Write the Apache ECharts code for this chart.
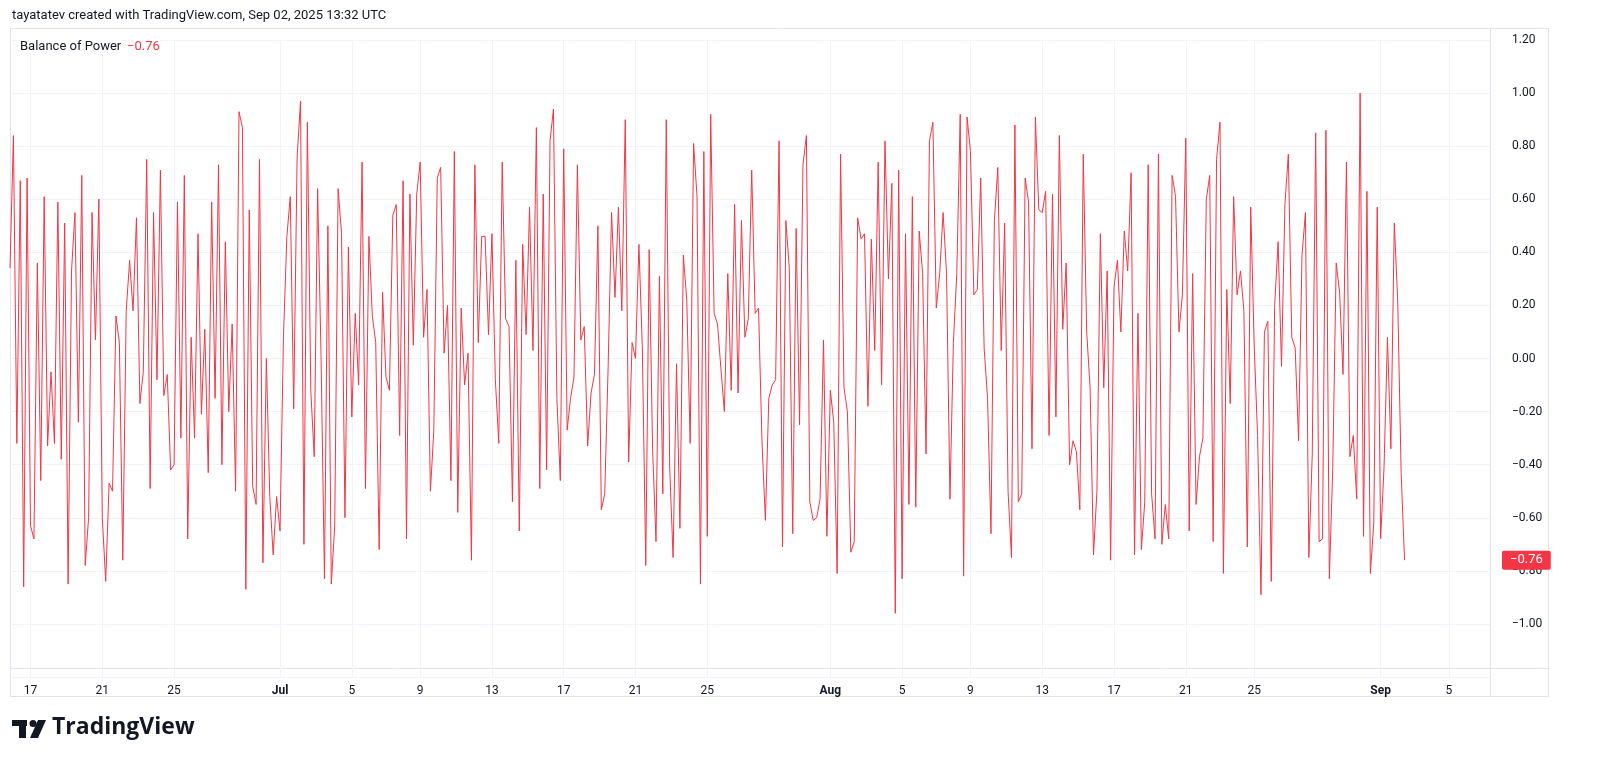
<!DOCTYPE html>
<html>
<head>
<meta charset="utf-8">
<script src="https://cdn.jsdelivr.net/npm/echarts@6/dist/echarts.min.js"></script>
<style>
  html, body { margin: 0; padding: 0; background: #fff; }
  #chart { width: 1600px; height: 778px; }
</style>
</head>
<body>
<div id="chart"></div>
<script>
// Balance of Power, 4h bars
const bopValues = [
  0.34,0.84,-0.32,0.67,-0.86,0.68,-0.63,-0.68,0.36,-0.46,0.61,-0.33,-0.05,-0.32,0.59,-0.38,0.51,-0.85,0.33,0.55,
  -0.24,0.69,-0.78,-0.6,0.55,0.07,0.6,-0.6,-0.84,-0.47,-0.5,0.16,0.06,-0.76,0.18,0.37,0.18,0.53,-0.17,-0.05,
  0.75,-0.49,0.55,-0.08,0.71,-0.14,-0.06,-0.42,-0.4,0.59,-0.3,0.69,-0.68,0.08,-0.3,0.47,-0.21,0.11,-0.43,0.59,
  -0.15,0.73,-0.4,0.44,-0.2,0.13,-0.5,0.93,0.87,-0.87,0.56,-0.48,-0.55,0.75,-0.77,
  0,-0.52,-0.74,-0.52,-0.65,0.08,0.46,0.61,-0.19,0.76,0.97,-0.7,0.89,-0.12,-0.37,0.64,0.01,-0.83,0.5,-0.85,
  -0.63,0.64,0.47,-0.6,0.42,-0.22,0.17,-0.1,0.74,-0.49,0.46,0.16,0.06,-0.72,0.25,-0.07,-0.12,0.54,0.58,-0.29,
  0.67,-0.68,0.62,0.05,0.62,0.74,0.08,0.26,-0.5,-0.27,0.68,0.72,0.02,0.2,-0.46,0.78,-0.58,0.19,-0.1,0.02,
  -0.76,0.73,0.06,0.46,0.46,0.09,0.47,-0.08,-0.32,0.74,0.15,0.12,-0.54,0.37,-0.65,0.43,0.09,0.57,0.03,
  0.87,-0.49,0.62,-0.42,0.82,0.94,-0.15,-0.46,0.79,-0.27,-0.15,-0.07,0.73,0.07,0.12,-0.33,-0.13,-0.06,0.5,-0.57,
  -0.51,-0.03,0.55,0.23,0.57,0.18,0.9,-0.39,0.06,0,0.43,0.04,-0.78,0.41,-0.34,-0.69,0.31,-0.51,0.9,-0.41,
  -0.75,-0.02,-0.64,0.39,0.22,-0.32,0.81,0.61,-0.85,0.78,-0.67,0.92,0.17,0.13,-0.04,-0.2,0.32,-0.12,0.58,-0.13,
  0.52,0.08,0.15,0.71,0.17,0.19,-0.31,-0.61,-0.15,-0.1,-0.08,0.82,-0.71,0.52,0.34,-0.66,0.49,
  -0.25,0.73,0.84,-0.54,-0.61,-0.6,-0.53,0.07,-0.67,-0.12,-0.24,-0.81,0.77,-0.11,-0.2,-0.73,-0.69,0.53,0.45,0.47,
  -0.18,0.45,0.03,0.74,-0.1,0.82,0.3,0.66,-0.96,0.71,-0.83,0.47,-0.55,0.61,-0.56,0.48,0.32,-0.36,0.82,0.89,
  0.19,0.32,0.55,0.32,-0.53,0.06,0.32,0.92,-0.82,0.91,0.78,0.24,0.26,0.68,0.04,-0.15,-0.66,0.52,0.72,0.03,
  0.51,-0.5,-0.75,0.88,-0.54,-0.51,0.68,0.59,-0.34,0.91,0.56,0.55,0.63,-0.29,0.62,-0.22,0.84,0.11,0.36,-0.4,-0.31,
  -0.35,-0.57,0.77,0.1,-0.11,-0.74,-0.5,0.47,-0.11,0.33,-0.76,0.27,0.37,0.1,0.48,0.33,0.7,-0.74,0.17,-0.72,
  -0.54,0.73,-0.51,-0.68,0.77,-0.7,-0.55,-0.68,0.69,0.61,0.1,0.24,0.83,-0.65,0.32,-0.55,-0.37,-0.3,0.6,0.69,
  -0.69,0.75,0.89,-0.81,0.26,-0.17,0.61,0.24,0.33,0.18,-0.71,0.57,0.05,-0.29,-0.89,0.1,0.14,-0.84,0.2,0.44,
  -0.03,0.58,0.77,0.08,0.04,-0.31,0.39,0.55,-0.75,-0.36,0.85,-0.69,-0.68,0.86,-0.83,-0.41,0.36,0.25,-0.06,0.74,
  -0.37,-0.29,-0.53,1.0,-0.67,0.63,-0.81,-0.62,0.57,
  -0.68,-0.41,0.08,-0.34,0.51,0.22,-0.43,-0.76
];

const startTime = Date.UTC(2025, 5, 15, 21);
const endTime = Date.UTC(2025, 8, 2, 12);
const axisEnd = Date.UTC(2025, 8, 7, 6);
const labelDays = ['2025-06-17','2025-06-21','2025-06-25','2025-07-01','2025-07-05','2025-07-09','2025-07-13',
  '2025-07-17','2025-07-21','2025-07-25','2025-08-01','2025-08-05','2025-08-09','2025-08-13','2025-08-17',
  '2025-08-21','2025-08-25','2025-09-01','2025-09-05'];
const monthNames = ['Jan','Feb','Mar','Apr','May','Jun','Jul','Aug','Sep','Oct','Nov','Dec'];

const step = (endTime - startTime) / (bopValues.length - 1);
const slotCount = Math.round((axisEnd - startTime) / step) + 1;
const slots = [];
for (let i = 0; i < slotCount; i++) slots.push(startTime + i * step);

// first slot of each labelled day
const labelAt = {};
labelDays.forEach((d) => {
  const t = Date.parse(d + 'T00:00:00Z');
  const idx = slots.findIndex((s) => s >= t);
  if (idx >= 0) labelAt[idx] = d;
});
const showTick = (idx) => labelAt[idx] !== undefined;

const lastValue = bopValues[bopValues.length - 1];
const fmt = (v) => (v < 0 ? '\u2212' : '') + Math.abs(v).toFixed(2);

const chart = echarts.init(document.getElementById('chart'));
chart.setOption({
  animation: false,
  textStyle: { fontFamily: 'Roboto, "Noto Sans", sans-serif' },
  grid: { left: 10, right: 110, top: 40, bottom: 101 },
  graphic: [
    { type: 'text', left: 12, top: 9, style: { text: 'tayatatev created with TradingView.com, Sep 02, 2025 13:32 UTC', fill: '#131722', font: '13px Roboto, sans-serif' } },
    { type: 'text', left: 20, top: 40, z: 10, style: { text: 'Balance of Power', fill: '#131722', font: '13px Roboto, sans-serif', backgroundColor: '#fff' } },
    { type: 'text', left: 127, top: 40, z: 10, style: { text: fmt(lastValue), fill: '#f23645', font: '13px Roboto, sans-serif', backgroundColor: '#fff' } },
    { type: 'rect', shape: { x: 10.5, y: 28.5, width: 1538, height: 668 }, style: { fill: 'none', stroke: '#e0e3eb', lineWidth: 1 }, silent: true },
    { type: 'line', shape: { x1: 10, y1: 668.5, x2: 1548, y2: 668.5 }, style: { stroke: '#e0e3eb', lineWidth: 1 } },
    { type: 'line', shape: { x1: 1490.5, y1: 28, x2: 1490.5, y2: 697 }, style: { stroke: '#e0e3eb', lineWidth: 1 } },
    // TradingView logo
    { type: 'rect', shape: { x: 12, y: 720, width: 15, height: 6 }, style: { fill: '#131722' } },
    { type: 'rect', shape: { x: 19, y: 720, width: 7, height: 18 }, style: { fill: '#131722' } },
    { type: 'circle', shape: { cx: 33, cy: 723.5, r: 3.5 }, style: { fill: '#131722' } },
    { type: 'polygon', shape: { points: [[38, 720], [46, 720], [38, 738], [30, 738]] }, style: { fill: '#131722' } },
    { type: 'text', left: 52, top: 716, style: { text: 'TradingView', fill: '#131722', font: 'bold 23px "Open Sans", Inter, sans-serif' } }
  ],
  xAxis: {
    type: 'category',
    boundaryGap: false,
    data: slots.map(String),
    axisLine: { show: false },
    axisTick: { show: false },
    axisLabel: {
      interval: (idx) => showTick(idx),
      margin: 8,
      color: '#131722',
      fontSize: 12,
      formatter: (v) => {
        const d = new Date(Number(v));
        const day = d.getUTCDate();
        return day === 1 ? '{b|' + monthNames[d.getUTCMonth()] + '}' : String(day);
      },
      rich: { b: { fontWeight: 'bold', fontSize: 12, color: '#131722' } }
    },
    splitLine: { show: true, interval: (idx) => showTick(idx), lineStyle: { color: '#f0f3fa' } }
  },
  yAxis: {
    type: 'value',
    position: 'right',
    min: -1.2,
    max: 1.2,
    interval: 0.2,
    axisLine: { show: false },
    axisTick: { show: false },
    axisLabel: {
      margin: 22,
      color: '#131722',
      fontSize: 12,
      formatter: (v) => (v <= -1.19 ? '' : fmt(v))
    },
    splitLine: { lineStyle: { color: '#f0f3fa' } }
  },
  series: [{
    type: 'line',
    data: bopValues,
    showSymbol: false,
    lineStyle: { color: '#f23645', width: 1 },
    markLine: {
      silent: true,
      symbol: 'none',
      lineStyle: { color: 'rgba(0,0,0,0)', width: 0 },
      data: [{ yAxis: lastValue }],
      label: {
        show: true,
        position: 'end',
        distance: 12,
        formatter: fmt(lastValue),
        color: '#fff',
        fontSize: 13,
        backgroundColor: '#f23645',
        padding: [3, 8, 3, 8],
        borderRadius: 2
      }
    }
  }]
});
</script>
</body>
</html>
